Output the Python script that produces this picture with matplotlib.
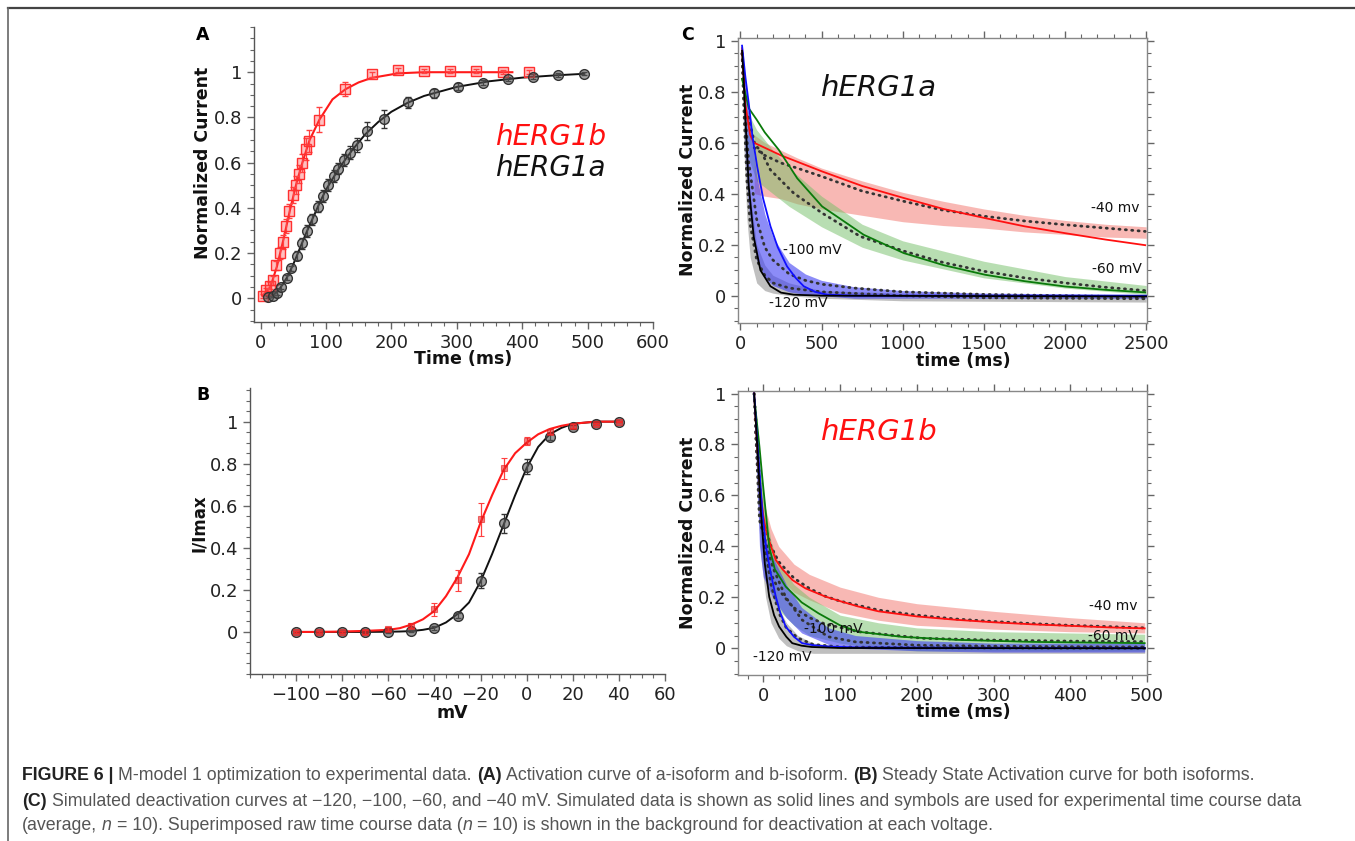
import numpy as np
import matplotlib
matplotlib.use("Agg")
import matplotlib.pyplot as plt
from matplotlib.ticker import FixedLocator, MultipleLocator, FuncFormatter
from matplotlib.lines import Line2D

W, H = 1355, 841

# ---------------- Panel A : activation time course ----------------
a_1b_time = [3, 9, 14, 19, 24, 29, 34, 39, 44, 49, 54, 59, 64, 69, 74, 89, 129, 170, 210, 250, 290, 330, 370, 410]
a_1b_val = [0.01, 0.035, 0.055, 0.08, 0.145, 0.2, 0.25, 0.32, 0.385, 0.455, 0.5, 0.55, 0.6, 0.66, 0.695,
            0.79, 0.925, 0.99, 1.01, 1.005, 1.005, 1.005, 1.0, 1.0]
a_1b_err = [0.01, 0.01, 0.015, 0.02, 0.02, 0.025, 0.03, 0.03, 0.03, 0.035, 0.04, 0.04, 0.04, 0.05, 0.05,
            0.055, 0.03, 0.01, 0.01, 0.01, 0.008, 0.008, 0.008, 0.01]
a_1b_fit_t = [3, 15, 25, 35, 45, 55, 65, 75, 90, 110, 130, 150, 170, 210, 250, 385]
a_1b_fit_v = [0.01, 0.05, 0.14, 0.26, 0.39, 0.51, 0.61, 0.70, 0.79, 0.88, 0.925, 0.955, 0.975, 0.995, 1.0, 1.0]

a_1a_time = [11, 19, 25, 32, 40, 47, 55, 64, 71, 79, 88, 95, 103, 112, 119, 128, 137, 147, 163, 188, 226,
             265, 302, 340, 378, 417, 455, 495]
a_1a_val = [0.004, 0.011, 0.022, 0.052, 0.091, 0.132, 0.188, 0.243, 0.297, 0.349, 0.405, 0.452, 0.501,
            0.541, 0.573, 0.611, 0.644, 0.678, 0.74, 0.792, 0.867, 0.907, 0.936, 0.954, 0.971, 0.98, 0.988, 0.994]
a_1a_err = [0.005, 0.005, 0.008, 0.01, 0.01, 0.012, 0.02, 0.025, 0.025, 0.025, 0.025, 0.025, 0.025, 0.025,
            0.025, 0.025, 0.03, 0.03, 0.04, 0.04, 0.025, 0.02, 0.015, 0.01, 0.01, 0.01, 0.008, 0.008]
a_1a_fit_t = [11, 20, 30, 40, 50, 60, 70, 80, 90, 100, 120, 140, 160, 180, 200, 225, 250, 300, 350, 400, 450, 495]
a_1a_fit_v = [0.004, 0.015, 0.045, 0.09, 0.15, 0.22, 0.29, 0.355, 0.42, 0.48, 0.575, 0.655, 0.725, 0.78,
              0.825, 0.865, 0.895, 0.935, 0.96, 0.976, 0.986, 0.993]

# ---------------- Panel B : steady-state activation ----------------
b_volt = [-100, -90, -80, -70, -60, -50, -40, -30, -20, -10, 0, 10, 20, 30, 40]
b_1b_val = [0.0, 0.0, 0.0, 0.0, 0.015, 0.03, 0.107, 0.246, 0.535, 0.778, 0.908, 0.952, 0.98, 0.99, 1.0]
b_1b_err = [0.005, 0.005, 0.005, 0.008, 0.01, 0.012, 0.03, 0.05, 0.08, 0.05, 0.02, 0.012, 0.01, 0.005, 0.003]
b_1a_val = [0.0, 0.0, 0.0, 0.0, 0.0, 0.003, 0.018, 0.078, 0.243, 0.516, 0.786, 0.929, 0.976, 0.99, 1.0]
b_1a_err = [0.003, 0.003, 0.003, 0.003, 0.004, 0.005, 0.008, 0.01, 0.035, 0.045, 0.035, 0.015, 0.01, 0.005, 0.003]
b_fit_v = [-100, -90, -80, -70, -60, -55, -50, -45, -40, -35, -30, -25, -20, -15, -10, -5, 0, 5, 10, 15, 20, 30, 40]
b_1b_fit = [0.0, 0.0, 0.002, 0.005, 0.01, 0.018, 0.035, 0.06, 0.1, 0.17, 0.26, 0.37, 0.52, 0.65, 0.77, 0.85,
            0.9, 0.94, 0.965, 0.98, 0.99, 1.0, 1.0]
b_1a_fit = [0.0, 0.0, 0.0, 0.0, 0.001, 0.002, 0.004, 0.01, 0.02, 0.045, 0.085, 0.14, 0.24, 0.37, 0.51, 0.65,
            0.78, 0.88, 0.94, 0.97, 0.99, 1.0, 1.0]

# ---------------- Panel C (top) : hERG1a deactivation ----------------
c1a_m120_sim_t = [10, 20, 31, 51, 82, 123, 185, 250, 328, 500, 2500]
c1a_m120_sim_v = [0.96, 0.85, 0.69, 0.43, 0.23, 0.10, 0.037, 0.012, 0.004, 0.0, -0.003]
c1a_m120_mean_t = [10, 20, 40, 60, 100, 150, 200, 300, 500, 1000, 1500, 2000, 2500]
c1a_m120_mean_v = [0.95, 0.75, 0.45, 0.28, 0.14, 0.08, 0.05, 0.03, 0.015, 0.0, -0.008, -0.01, -0.012]
c1a_m120_band_t = [10, 20, 40, 60, 100, 150, 200, 300, 500, 1000, 2500]
c1a_m120_band_lo = [0.9, 0.6, 0.3, 0.15, 0.05, 0.02, 0.01, 0.0, -0.01, -0.02, -0.025]
c1a_m120_band_hi = [0.98, 0.85, 0.6, 0.4, 0.2, 0.12, 0.08, 0.05, 0.02, 0.01, 0.0]

c1a_m100_sim_t = [10, 30, 51, 75, 103, 140, 185, 230, 287, 340, 390, 460, 534, 700, 2500]
c1a_m100_sim_v = [0.98, 0.86, 0.755, 0.62, 0.507, 0.38, 0.272, 0.19, 0.115, 0.07, 0.037, 0.015, 0.004, 0.0, 0.0]
c1a_m100_mean_t = [10, 30, 50, 100, 150, 200, 300, 400, 500, 700, 1000, 1500, 2000, 2500]
c1a_m100_mean_v = [0.95, 0.7, 0.53, 0.3, 0.19, 0.14, 0.085, 0.06, 0.045, 0.03, 0.015, 0.005, 0.0, -0.005]
c1a_m100_band_t = [10, 30, 50, 100, 150, 200, 300, 400, 500, 700, 1000, 1500, 2500]
c1a_m100_band_lo = [0.92, 0.55, 0.35, 0.14, 0.07, 0.04, 0.015, 0.005, 0.0, -0.01, -0.01, -0.01, -0.01]
c1a_m100_band_hi = [0.98, 0.85, 0.72, 0.47, 0.32, 0.23, 0.13, 0.085, 0.06, 0.035, 0.02, 0.01, 0.005]

c1a_m60_sim_t = [10, 51, 100, 150, 236, 350, 503, 759, 1006, 1250, 1508, 1750, 2001, 2250, 2494]
c1a_m60_sim_v = [0.85, 0.735, 0.69, 0.64, 0.572, 0.46, 0.35, 0.239, 0.167, 0.12, 0.082, 0.057, 0.036, 0.023, 0.013]
c1a_m60_mean_t = [50, 90, 123, 185, 328, 503, 739, 1006, 1250, 1508, 1750, 2001, 2250, 2494]
c1a_m60_mean_v = [0.7, 0.59, 0.57, 0.493, 0.402, 0.324, 0.232, 0.175, 0.13, 0.095, 0.07, 0.05, 0.033, 0.02]
c1a_m60_band_t = [30, 60, 100, 200, 300, 500, 750, 1000, 1500, 2000, 2500]
c1a_m60_band_lo = [0.6, 0.52, 0.45, 0.4, 0.35, 0.27, 0.19, 0.14, 0.07, 0.03, 0.005]
c1a_m60_band_hi = [0.75, 0.7, 0.65, 0.57, 0.5, 0.39, 0.28, 0.215, 0.135, 0.075, 0.04]

c1a_m40_sim_t = [10, 30, 60, 82, 250, 503, 750, 1006, 1250, 1508, 1750, 2001, 2250, 2494]
c1a_m40_sim_v = [0.97, 0.75, 0.63, 0.6, 0.55, 0.487, 0.43, 0.383, 0.34, 0.304, 0.272, 0.245, 0.22, 0.198]
c1a_m40_mean_t = [85, 150, 250, 350, 503, 750, 1006, 1250, 1508, 1750, 2001, 2250, 2494]
c1a_m40_mean_v = [0.58, 0.55, 0.52, 0.5, 0.467, 0.41, 0.37, 0.335, 0.311, 0.293, 0.278, 0.265, 0.252]
c1a_m40_band_t = [85, 150, 250, 350, 500, 750, 1000, 1250, 1500, 1750, 2000, 2250, 2500]
c1a_m40_band_lo = [0.4, 0.39, 0.38, 0.36, 0.34, 0.315, 0.29, 0.275, 0.265, 0.25, 0.24, 0.23, 0.225]
c1a_m40_band_hi = [0.63, 0.6, 0.57, 0.54, 0.5, 0.45, 0.405, 0.37, 0.34, 0.315, 0.295, 0.28, 0.27]

# ---------------- Panel C (bottom) : hERG1b deactivation ----------------
c1b_m120_sim_t = [-12, -8, -3, 2, 7.7, 14, 20.6, 30, 37.7, 50, 63, 100, 497]
c1b_m120_sim_v = [1.0, 0.8, 0.53, 0.33, 0.202, 0.13, 0.085, 0.045, 0.02, 0.01, 0.005, 0.001, 0.0]
c1b_m120_mean_t = [-12, -8, -3, 3, 10, 20, 30, 45, 65, 100, 200, 497]
c1b_m120_mean_v = [1.0, 0.82, 0.56, 0.38, 0.25, 0.14, 0.08, 0.04, 0.015, 0.005, 0.002, 0.0]
c1b_m120_band_t = [-12, -8, -3, 3, 10, 20, 30, 45, 65, 100, 497]
c1b_m120_band_lo = [0.95, 0.6, 0.35, 0.2, 0.1, 0.04, 0.01, -0.01, -0.02, -0.02, -0.02]
c1b_m120_band_hi = [1.0, 0.85, 0.6, 0.42, 0.28, 0.16, 0.1, 0.05, 0.02, 0.01, 0.005]

c1b_m100_sim_t = [-12, -7.3, -1, 3.4, 10, 16.3, 22, 29.2, 40, 50.6, 65, 84.9, 120, 497]
c1b_m100_sim_v = [1.0, 0.79, 0.53, 0.398, 0.29, 0.202, 0.14, 0.085, 0.045, 0.02, 0.012, 0.007, 0.003, 0.0]
c1b_m100_mean_t = [-12, -5, 12, 29.2, 50.6, 84.9, 120, 200, 300, 400, 497]
c1b_m100_mean_v = [1.0, 0.503, 0.32, 0.2, 0.111, 0.045, 0.025, 0.012, 0.008, 0.006, 0.005]
c1b_m100_band_t = [-12, -5, 0, 12, 30, 50, 85, 120, 200, 300, 497]
c1b_m100_band_lo = [0.95, 0.4, 0.28, 0.2, 0.12, 0.06, 0.015, 0.0, -0.01, -0.015, -0.015]
c1b_m100_band_hi = [1.0, 0.6, 0.45, 0.36, 0.25, 0.16, 0.08, 0.05, 0.03, 0.02, 0.02]

c1b_m60_sim_t = [-12, -5, -1, 7.7, 15, 29.2, 50, 72, 100, 123.6, 180, 252, 350, 497]
c1b_m60_sim_v = [0.99, 0.79, 0.66, 0.398, 0.31, 0.242, 0.18, 0.137, 0.09, 0.065, 0.045, 0.033, 0.025, 0.02]
c1b_m60_mean_t = [-10, -5, 0, 7.5, 20, 37.8, 60, 80.7, 123.6, 209, 300, 400, 497]
c1b_m60_mean_v = [0.85, 0.6, 0.45, 0.307, 0.23, 0.163, 0.12, 0.095, 0.065, 0.039, 0.032, 0.028, 0.026]
c1b_m60_band_t = [-10, 0, 10, 20, 40, 60, 100, 150, 200, 300, 400, 497]
c1b_m60_band_lo = [0.8, 0.35, 0.22, 0.15, 0.09, 0.05, 0.02, 0.0, -0.01, -0.01, -0.01, -0.01]
c1b_m60_band_hi = [0.95, 0.6, 0.42, 0.33, 0.25, 0.2, 0.13, 0.1, 0.08, 0.065, 0.06, 0.055]

c1b_m40_sim_t = [-12, -8, -4, 0, 3.4, 10, 16.3, 25, 37.8, 55, 80.7, 100, 123.6, 150, 200, 250, 300, 350, 400, 450, 497]
c1b_m40_sim_v = [1.0, 0.8, 0.62, 0.52, 0.464, 0.4, 0.346, 0.31, 0.268, 0.235, 0.203, 0.185, 0.164, 0.145,
                 0.125, 0.112, 0.102, 0.094, 0.088, 0.082, 0.078]
c1b_m40_mean_t = [-5, 0, 10, 20, 40, 60, 80, 100, 150, 200, 250, 300, 350, 400, 450, 497]
c1b_m40_mean_v = [0.6, 0.5, 0.4, 0.34, 0.275, 0.235, 0.205, 0.185, 0.15, 0.13, 0.115, 0.105, 0.097, 0.09, 0.085, 0.08]
c1b_m40_band_t = [-10, -5, 0, 10, 20, 40, 60, 100, 150, 200, 300, 400, 497]
c1b_m40_band_lo = [0.85, 0.5, 0.42, 0.33, 0.28, 0.22, 0.19, 0.14, 0.11, 0.09, 0.075, 0.065, 0.06]
c1b_m40_band_hi = [0.95, 0.7, 0.58, 0.47, 0.4, 0.33, 0.29, 0.24, 0.2, 0.175, 0.145, 0.12, 0.1]

# ---------------- helpers ----------------
fig = plt.figure(figsize=(W / 100, H / 100), dpi=100)
plt.rcParams['font.family'] = ['DejaVu Sans']


def fx(px):
    return px / W


def fy(py):
    return 1 - py / H


def add_axes(l, t, r, b):
    return fig.add_axes([fx(l), fy(b), fx(r) - fx(l), (b - t) / H])


gfmt = FuncFormatter(lambda v, p: f"{v:g}")
SPINE = '#555555'
TICKC = '#666666'


def style_axes(ax, box):
    for s in ax.spines.values():
        s.set_color(SPINE if not box else '#888888')
        s.set_linewidth(1.0)
    if not box:
        ax.spines['top'].set_visible(False)
        ax.spines['right'].set_visible(False)
    ax.tick_params(which='both', direction='out', colors=TICKC, labelcolor='#222222',
                   labelsize=13, top=box, right=box)
    ax.tick_params(which='major', length=5, width=1.0)
    ax.tick_params(which='minor', length=3, width=0.8)
    ax.yaxis.set_major_locator(FixedLocator([0, 0.2, 0.4, 0.6, 0.8, 1.0]))
    ax.yaxis.set_major_formatter(gfmt)
    ax.yaxis.set_minor_locator(MultipleLocator(0.05))


def set_lab(ax, axis, text, px, py, size=12.5):
    if axis == 'y':
        ax.set_ylabel(text, fontsize=size, fontweight='bold', va='center', color='#111111')
        ax.yaxis.set_label_coords(fx(px), fy(py), transform=fig.transFigure)
    else:
        ax.set_xlabel(text, fontsize=size, fontweight='bold', va='center', color='#111111')
        ax.xaxis.set_label_coords(fx(px), fy(py), transform=fig.transFigure)


# ---------------- Panel A ----------------
axA = add_axes(254, 27, 653, 322)
style_axes(axA, False)
axA.set_xlim(-10, 600)
axA.set_ylim(-0.105, 1.2)
axA.xaxis.set_major_locator(MultipleLocator(100))
axA.xaxis.set_minor_locator(MultipleLocator(20))
axA.plot(a_1b_fit_t, a_1b_fit_v, color='#ff1a1a', lw=1.5, zorder=3)
axA.errorbar(a_1b_time, a_1b_val, yerr=a_1b_err, fmt='s', ms=6.5, mfc=(1, 0.3, 0.3, 0.35),
             mec='#ff3030', mew=1.0, ecolor='#ff4040', elinewidth=0.9, capsize=2.5, zorder=4)
axA.plot(a_1a_fit_t, a_1a_fit_v, color='#111111', lw=1.4, zorder=3)
axA.errorbar(a_1a_time, a_1a_val, yerr=a_1a_err, fmt='o', ms=7, mfc=(0.35, 0.35, 0.35, 0.55),
             mec='#333333', mew=1.0, ecolor='#333333', elinewidth=0.9, capsize=2.5, zorder=4)
set_lab(axA, 'y', 'Normalized Current', 203, 163)
set_lab(axA, 'x', 'Time (ms)', 463, 359)
fig.text(fx(551), fy(137), 'hERG1b', color='#ff1010', fontsize=20, style='italic', ha='center', va='center')
fig.text(fx(550), fy(168), 'hERG1a', color='#111111', fontsize=20, style='italic', ha='center', va='center')

# ---------------- Panel B ----------------
axB = add_axes(250, 388, 665, 674)
style_axes(axB, False)
axB.set_xlim(-120, 60)
axB.set_ylim(-0.2, 1.16)
axB.xaxis.set_major_locator(FixedLocator(list(range(-100, 61, 20))))
axB.xaxis.set_minor_locator(MultipleLocator(5))
axB.plot(b_fit_v, b_1a_fit, color='#111111', lw=1.4, zorder=3)
axB.plot(b_fit_v, b_1b_fit, color='#ff1a1a', lw=1.5, zorder=3)
axB.errorbar(b_volt, b_1a_val, yerr=b_1a_err, fmt='o', ms=7, mfc=(0.35, 0.35, 0.35, 0.6),
             mec='#333333', mew=1.0, ecolor='#333333', elinewidth=0.9, capsize=2.5, zorder=4)
axB.errorbar(b_volt, b_1b_val, yerr=b_1b_err, fmt='s', ms=4.5, mfc=(0.9, 0.1, 0.1, 0.55),
             mec=(0.9, 0.1, 0.1, 0.6), mew=0.8, ecolor='#ff4040', elinewidth=0.9, capsize=2.5, zorder=5)
set_lab(axB, 'y', 'I/Imax', 199, 523, size=12)
set_lab(axB, 'x', 'mV', 452, 713)

# ---------------- Panel C ----------------
band_cols = {'m120': (0.45, 0.45, 0.45, 0.45), 'm100': (0.25, 0.25, 0.95, 0.6),
             'm60': (0.45, 0.75, 0.4, 0.5), 'm40': (0.95, 0.45, 0.42, 0.5)}
line_cols = {'m120': '#000000', 'm100': '#1010ff', 'm60': '#0a7a0a', 'm40': '#ff1010'}
DOT = dict(color='#333333', lw=2.0, ls=(0, (0.4, 1.9)), dash_capstyle='round', zorder=6)


def draw_c(ax, data):
    for key in ['m120', 'm40', 'm60', 'm100']:
        d = data[key]
        ax.fill_between(d['bt'], d['lo'], d['hi'], color=band_cols[key], lw=0, zorder=2)
    for key in ['m40', 'm60', 'm100', 'm120']:
        d = data[key]
        ax.plot(d['mt'], d['mv'], **DOT)
    for key in ['m40', 'm60', 'm100', 'm120']:
        d = data[key]
        ax.plot(d['st'], d['sv'], color=line_cols[key], lw=1.3, zorder=7)


dataA = {
    'm120': dict(st=c1a_m120_sim_t, sv=c1a_m120_sim_v, mt=c1a_m120_mean_t, mv=c1a_m120_mean_v,
                 bt=c1a_m120_band_t, lo=c1a_m120_band_lo, hi=c1a_m120_band_hi),
    'm100': dict(st=c1a_m100_sim_t, sv=c1a_m100_sim_v, mt=c1a_m100_mean_t, mv=c1a_m100_mean_v,
                 bt=c1a_m100_band_t, lo=c1a_m100_band_lo, hi=c1a_m100_band_hi),
    'm60': dict(st=c1a_m60_sim_t, sv=c1a_m60_sim_v, mt=c1a_m60_mean_t, mv=c1a_m60_mean_v,
                bt=c1a_m60_band_t, lo=c1a_m60_band_lo, hi=c1a_m60_band_hi),
    'm40': dict(st=c1a_m40_sim_t, sv=c1a_m40_sim_v, mt=c1a_m40_mean_t, mv=c1a_m40_mean_v,
                bt=c1a_m40_band_t, lo=c1a_m40_band_lo, hi=c1a_m40_band_hi),
}
dataB = {
    'm120': dict(st=c1b_m120_sim_t, sv=c1b_m120_sim_v, mt=c1b_m120_mean_t, mv=c1b_m120_mean_v,
                 bt=c1b_m120_band_t, lo=c1b_m120_band_lo, hi=c1b_m120_band_hi),
    'm100': dict(st=c1b_m100_sim_t, sv=c1b_m100_sim_v, mt=c1b_m100_mean_t, mv=c1b_m100_mean_v,
                 bt=c1b_m100_band_t, lo=c1b_m100_band_lo, hi=c1b_m100_band_hi),
    'm60': dict(st=c1b_m60_sim_t, sv=c1b_m60_sim_v, mt=c1b_m60_mean_t, mv=c1b_m60_mean_v,
                bt=c1b_m60_band_t, lo=c1b_m60_band_lo, hi=c1b_m60_band_hi),
    'm40': dict(st=c1b_m40_sim_t, sv=c1b_m40_sim_v, mt=c1b_m40_mean_t, mv=c1b_m40_mean_v,
                bt=c1b_m40_band_t, lo=c1b_m40_band_lo, hi=c1b_m40_band_hi),
}

axC1 = add_axes(738, 38, 1147, 323)
style_axes(axC1, True)
axC1.set_xlim(-15, 2505)
axC1.set_ylim(-0.107, 1.01)
axC1.xaxis.set_major_locator(MultipleLocator(500))
axC1.xaxis.set_minor_locator(MultipleLocator(100))
draw_c(axC1, dataA)
set_lab(axC1, 'y', 'Normalized Current', 688, 180)
set_lab(axC1, 'x', 'time (ms)', 963, 361)
axC1.text(0.345, 0.825, 'hERG1a', transform=axC1.transAxes, fontsize=21, style='italic',
          color='#111111', ha='center', va='center')

axC2 = add_axes(738, 391, 1147, 675)
style_axes(axC2, True)
axC2.set_xlim(-33, 500)
axC2.set_ylim(-0.105, 1.01)
axC2.xaxis.set_major_locator(MultipleLocator(100))
axC2.xaxis.set_minor_locator(MultipleLocator(20))
draw_c(axC2, dataB)
set_lab(axC2, 'y', 'Normalized Current', 688, 533)
set_lab(axC2, 'x', 'time (ms)', 963, 712)
axC2.text(0.345, 0.857, 'hERG1b', transform=axC2.transAxes, fontsize=21, style='italic',
          color='#ff1010', ha='center', va='center')

# voltage annotations (figure pixel positions)
annots = [('-40 mv', 1115, 208), ('-60 mV', 1117, 269), ('-100 mV', 812, 250), ('-120 mV', 798, 303),
          ('-40 mv', 1113, 606), ('-60 mV', 1113, 636), ('-100 mV', 833, 629), ('-120 mV', 782, 657)]
for txt, px, py in annots:
    fig.text(fx(px), fy(py), txt, fontsize=10, color='#111111', ha='center', va='center', zorder=10)

# panel letters
for lab, px, py in [('A', 203, 35), ('B', 203, 395), ('C', 688, 35)]:
    fig.text(fx(px), fy(py), lab, fontsize=12.5, fontweight='bold', ha='center', va='center')

# frame lines
fig.add_artist(Line2D([fx(8), fx(1355)], [fy(8), fy(8)], color='#444444', lw=1.6, transform=fig.transFigure))
fig.add_artist(Line2D([fx(8), fx(8)], [fy(8), fy(841)], color='#666666', lw=1.2, transform=fig.transFigure))

# ---------------- caption ----------------
CAP_FONT = ['Liberation Sans', 'DejaVu Sans']
CAP_SIZE = 12.8
cap_lines = [
    (775, [("FIGURE 6 |", 'b'), (" M-model 1 optimization to experimental data.", 'n'), (" (A)", 'b'),
           (" Activation curve of a-isoform and b-isoform.", 'n'), (" (B)", 'b'),
           (" Steady State Activation curve for both isoforms.", 'n')]),
    (801, [("(C)", 'b'), (" Simulated deactivation curves at \u2212120, \u2212100, \u221260, and \u221240 mV. "
                          "Simulated data is shown as solid lines and symbols are used for experimental time course data", 'n')]),
    (826, [("(average,", 'n'), (" n", 'i'), (" = 10). Superimposed raw time course data (", 'n'), ("n", 'i'),
           (" = 10) is shown in the background for deactivation at each voltage.", 'n')]),
]
renderer = fig.canvas.get_renderer()
sp = fig.text(0, 0, 'a a', fontsize=CAP_SIZE, family=CAP_FONT)
nsp = fig.text(0, 0, 'aa', fontsize=CAP_SIZE, family=CAP_FONT)
space_w = sp.get_window_extent(renderer).width - nsp.get_window_extent(renderer).width
sp.remove()
nsp.remove()
for py, parts in cap_lines:
    x = 22.0
    for txt, st in parts:
        if txt.startswith(' '):
            x += space_w
            txt = txt[1:]
        kw = dict(fontsize=CAP_SIZE, family=CAP_FONT, va='center', ha='left')
        if st == 'b':
            kw.update(fontweight='bold', color='#222222')
        elif st == 'i':
            kw.update(style='italic', color='#555555')
        else:
            kw.update(color='#555555')
        t = fig.text(fx(x), fy(py), txt, **kw)
        x += t.get_window_extent(renderer).width

fig.savefig('out.png', dpi=100)
